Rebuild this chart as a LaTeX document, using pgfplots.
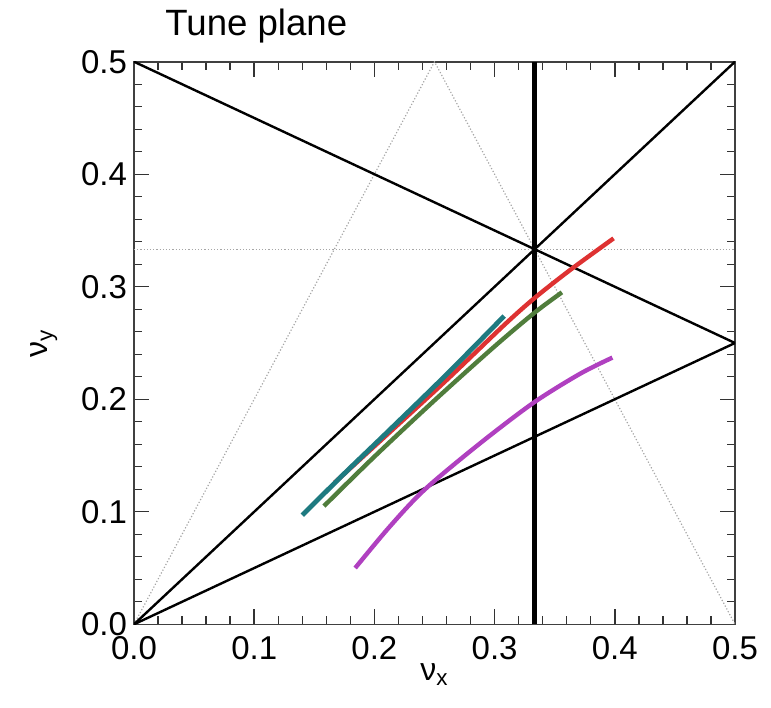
\documentclass[border=0pt]{standalone}
\usepackage{fontspec}
\setmainfont{Liberation Sans}
\usepackage{pgfplots}
\pgfplotsset{compat=1.18}
\definecolor{cteal}{RGB}{30,122,128}
\definecolor{cred}{RGB}{222,50,50}
\definecolor{cgreen}{RGB}{80,125,60}
\definecolor{cmag}{RGB}{176,64,192}
\begin{document}
\begin{tikzpicture}
\begin{axis}[
  name=ax,
  scale only axis,
  width=300.5pt, height=281.3pt,
  xmin=0, xmax=0.5, ymin=0, ymax=0.5,
  xtick={0,0.1,0.2,0.3,0.4,0.5},
  ytick={0,0.1,0.2,0.3,0.4,0.5},
  xticklabels={0.0,0.1,0.2,0.3,0.4,0.5},
  yticklabels={0.0,0.1,0.2,0.3,0.4,0.5},
  minor tick num=4,
  tick align=inside,
  major tick length=7.5pt,
  minor tick length=4pt,
  axis line style={black!75, line width=0.8pt},
  every tick/.style={black!80, line width=0.7pt},
  /pgf/number format/assume math mode=true,
  tick label style={font=\fontsize{16.5}{18}\selectfont},
  xticklabel style={yshift=-2.5pt},
  xlabel={ν\textsubscript{x}},
  ylabel={ν\textsubscript{y}},
  label style={font=\fontsize{16}{18}\selectfont},
  xlabel style={at={(axis description cs:0.5,-0.09)}, anchor=center},
  ylabel style={at={(axis description cs:-0.15,0.5)}, anchor=center},
  clip=true,
]
% dotted resonance lines
\addplot[gray!70, line width=0.6pt, densely dotted] coordinates {(0,0) (0.25,0.5) (0.5,0)};
\addplot[gray!70, line width=0.6pt, densely dotted] coordinates {(0,0.33333) (0.5,0.33333)};
% solid resonance lines
\addplot[black, line width=1.2pt] coordinates {(0,0.5) (0.5,0.25)};
\addplot[black, line width=1.2pt] coordinates {(0,0) (0.5,0.5)};
\addplot[black, line width=1.2pt] coordinates {(0,0) (0.5,0.25)};
\addplot[black, line width=2.6pt] coordinates {(0.33333,0) (0.33333,0.5)};
% tune curves
\addplot[cred, line width=2.2pt, smooth] coordinates {(0.167,0.126) (0.21,0.168) (0.26,0.217) (0.308,0.266) (0.3333,0.290) (0.363,0.315) (0.399,0.343)};
\addplot[cteal, line width=2.4pt, smooth] coordinates {(0.14,0.097) (0.175,0.134) (0.21,0.17) (0.26,0.222) (0.308,0.274)};
\addplot[cgreen, line width=2.2pt, smooth] coordinates {(0.158,0.105) (0.2,0.149) (0.25,0.199) (0.3,0.247) (0.3333,0.277) (0.356,0.295)};
\addplot[cmag, line width=2.2pt, smooth] coordinates {(0.184,0.050) (0.2125,0.0865) (0.2417,0.1196) (0.2875,0.1605) (0.3325,0.197) (0.371,0.2226) (0.398,0.237)};
\end{axis}
\node[anchor=base west, font=\fontsize{18.3}{20}\selectfont, inner sep=0pt] at ([shift={(15.5pt,13.35pt)}]ax.north west) {Tune plane};
\pgfresetboundingbox
\path[use as bounding box] ([shift={(-67pt,-41.35pt)}]ax.south west) rectangle ([shift={(18pt,30.85pt)}]ax.north east);
\end{tikzpicture}
\end{document}
